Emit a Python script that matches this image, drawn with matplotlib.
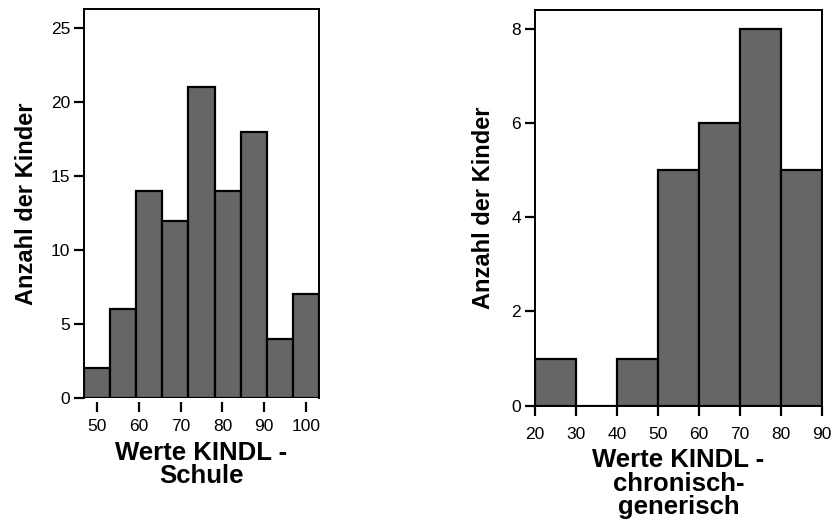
import numpy as np
import matplotlib
matplotlib.use("Agg")
import matplotlib.pyplot as plt

plt.rcParams["font.family"] = ["Liberation Sans", "DejaVu Sans"]

# left histogram: KINDL school scores
schule_edges = [46.875, 53.125, 59.375, 65.625, 71.875, 78.125, 84.375, 90.625, 96.875, 103.125]
schule_counts = [2, 6, 14, 12, 21, 14, 18, 4, 7]
schule_xticks = [50, 60, 70, 80, 90, 100]
schule_yticks = [0, 5, 10, 15, 20, 25]

# right histogram: KINDL chronic-generic scores
chron_edges = [20, 30, 40, 50, 60, 70, 80, 90]
chron_counts = [1, 0, 1, 5, 6, 8, 5]
chron_xticks = [20, 30, 40, 50, 60, 70, 80, 90]
chron_yticks = [0, 2, 4, 6, 8]

BAR_COLOR = "#666666"

fig = plt.figure(figsize=(8.37, 5.26), dpi=100)
ax1 = fig.add_axes([84 / 837, 1 - 398 / 526, 235 / 837, 389 / 526])
ax2 = fig.add_axes([535 / 837, 1 - 405.7 / 526, 287 / 837, 395.7 / 526])


def draw_hist(ax, edges, counts, xticks, yticks, ymax, xlabel):
    edges = np.asarray(edges)
    ax.bar(edges[:-1], counts, width=np.diff(edges), align="edge",
           color=BAR_COLOR, edgecolor="black", linewidth=1.6, zorder=2)
    ax.set_xlim(edges[0], edges[-1])
    ax.set_ylim(0, ymax)
    ax.set_xticks(xticks)
    ax.set_yticks(yticks)
    for s in ax.spines.values():
        s.set_linewidth(1.4)
    ax.tick_params(axis="both", direction="out", length=7, width=1.6,
                   labelsize=12.5)
    ax.tick_params(axis="x", pad=8)
    ax.tick_params(axis="y", pad=3)
    ax.set_ylabel("Anzahl der Kinder", fontsize=17, fontweight="bold")
    ax.set_xlabel(xlabel, fontsize=18.5, fontweight="bold",
                  linespacing=0.95, labelpad=5)


draw_hist(ax1, schule_edges, schule_counts, schule_xticks, schule_yticks,
          26.3, "Werte KINDL -\nSchule")
draw_hist(ax2, chron_edges, chron_counts, chron_xticks, chron_yticks,
          8.4, "Werte KINDL -\nchronisch-\ngenerisch")

# left panel: x ticks sit slightly below the bars
ax1.spines["bottom"].set_position(("outward", 3))
ax1.spines["bottom"].set_visible(False)
ax1.tick_params(axis="x", pad=5)

ax1.yaxis.set_label_coords(-0.196, 0.5)
ax2.yaxis.set_label_coords(-0.138, 0.5)

fig.savefig("out.png", dpi=100)
